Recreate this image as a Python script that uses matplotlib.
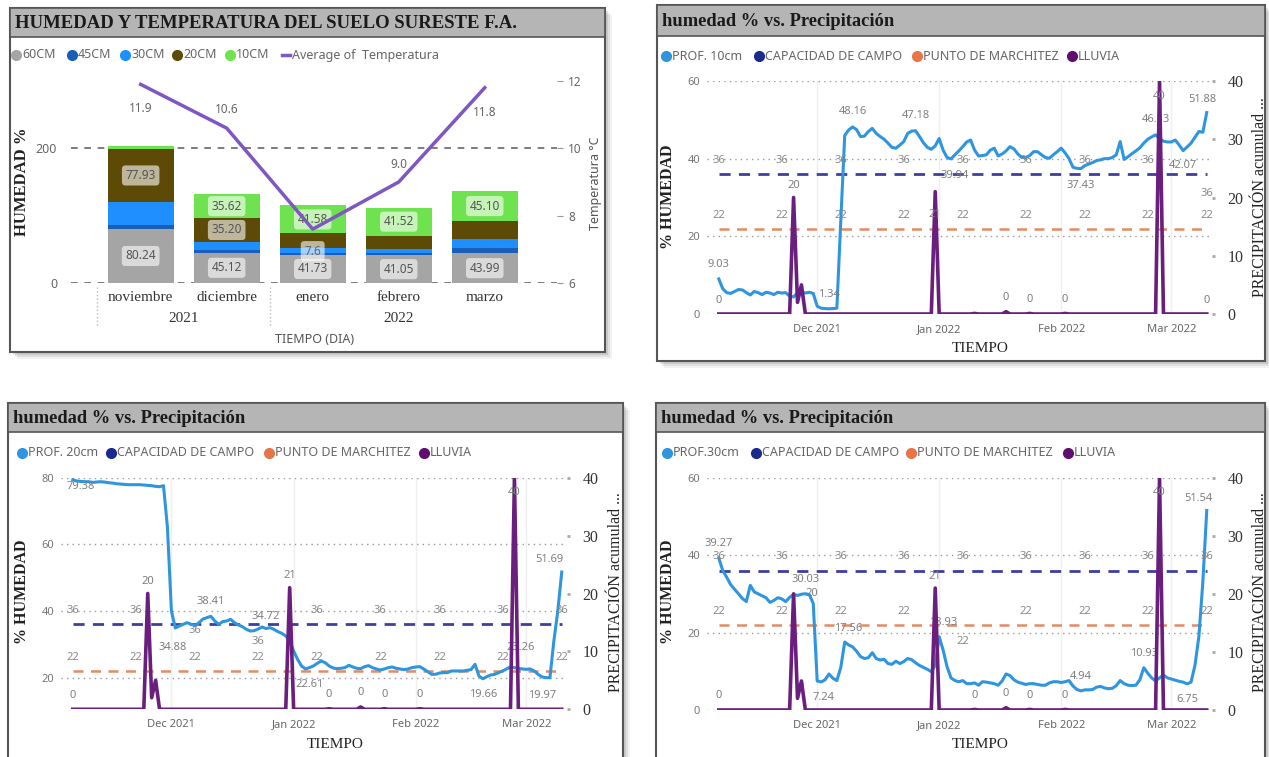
import numpy as np
import pandas as pd
import matplotlib
matplotlib.use('Agg')
import matplotlib.pyplot as plt
import matplotlib.dates as mdates
from matplotlib.patches import Rectangle
from matplotlib.lines import Line2D

plt.rcParams['font.family'] = ['Noto Sans', 'DejaVu Sans']

W, H = 1269, 757

# ---- panel 1: humedad por profundidad (mensual) + temperatura ----
meses = ['noviembre', 'diciembre', 'enero', 'febrero', 'marzo']
cm60 = [80.24, 45.12, 41.73, 41.05, 43.99]
cm45 = [6.5, 4.0, 3.5, 3.5, 8.0]
cm30 = [34.0, 12.0, 6.4, 6.0, 14.0]
cm20 = [77.93, 35.20, 22.0, 19.8, 25.7]
cm10 = [5.5, 35.62, 41.58, 41.52, 45.10]
temperatura = [11.9, 10.6, 7.6, 9.0, 11.8]

# ---- series diarias 06/11/2021 - 10/03/2022 ----
fechas = pd.date_range('2021-11-06', '2022-03-10', freq='D')
hum_10cm = [9.03, 6.5, 5.5, 5.3, 5.8, 6.3, 6.2, 5.5, 4.9, 5.8,
            5.5, 5.0, 5.6, 5.4, 5.0, 5.6, 5.4, 5.5, 4.6, 4.4,
            5.5, 5.6, 5.4, 5.6, 5.3, 2.0, 1.5, 1.4, 1.34, 1.4,
            1.5, 24.0, 46.0, 47.4, 48.16, 47.5, 45.7, 45.8, 47.0, 47.8,
            46.5, 45.7, 45.0, 44.0, 42.9, 42.7, 43.5, 44.4, 46.5, 47.1,
            47.18, 45.7, 44.1, 42.9, 42.4, 43.3, 45.2, 42.2, 40.3, 39.94,
            41.0, 42.0, 43.1, 44.3, 44.8, 42.2, 40.7, 40.8, 41.0, 42.2,
            42.7, 40.7, 41.2, 42.0, 43.1, 42.5, 41.2, 40.3, 40.3, 40.8,
            41.8, 41.8, 41.0, 40.3, 40.1, 41.0, 41.8, 42.7, 41.5, 40.0,
            37.8, 37.5, 37.43, 38.2, 38.6, 39.0, 39.5, 39.7, 40.0, 40.0,
            40.3, 41.0, 44.4, 39.8, 40.5, 41.3, 42.0, 42.8, 44.0, 45.0,
            45.6, 46.13, 45.2, 44.5, 44.3, 44.3, 44.8, 43.5, 42.07, 43.0,
            44.0, 45.5, 47.0, 46.8, 51.88]
hum_20cm = [79.38, 79.0, 78.9, 78.8, 78.8, 78.6, 78.7, 78.8, 78.7, 78.5,
            78.4, 78.2, 78.1, 78.0, 77.9, 77.9, 77.9, 77.9, 77.8, 77.7,
            77.6, 77.4, 77.3, 77.6, 65.0, 40.0, 34.88, 35.5, 36.0, 36.5,
            36.0, 35.6, 36.5, 37.6, 38.0, 38.41, 37.0, 36.0, 36.8, 37.0,
            37.5, 36.5, 35.8, 35.3, 34.5, 34.0, 34.1, 34.6, 35.2, 34.72,
            35.0, 34.5, 33.8, 33.3, 32.5, 31.0, 28.0, 25.5, 23.5, 22.61,
            23.0, 23.5, 24.3, 25.0, 24.5, 23.5, 22.9, 22.7, 22.8, 23.0,
            23.7, 23.2, 22.8, 22.7, 23.3, 23.6, 23.0, 22.6, 22.3, 22.6,
            23.0, 23.2, 22.8, 22.6, 22.4, 22.6, 23.0, 23.2, 23.3, 22.6,
            21.8, 21.0, 21.0, 21.4, 21.5, 21.5, 22.0, 22.0, 22.0, 22.0,
            22.2, 22.4, 24.0, 20.5, 19.66, 20.3, 20.8, 21.0, 21.5, 22.0,
            22.6, 23.26, 23.0, 22.8, 22.6, 22.5, 22.6, 22.0, 21.0, 20.2,
            20.0, 19.97, 31.0, 40.0, 51.69]
hum_30cm = [39.27, 36.0, 34.3, 32.4, 31.2, 30.0, 28.8, 28.0, 32.2, 30.5,
            30.0, 29.5, 29.0, 27.8, 28.3, 29.0, 28.7, 28.0, 29.1, 29.8,
            29.6, 29.9, 30.03, 29.8, 27.5, 7.5, 7.24, 7.8, 9.3, 8.2,
            7.6, 11.0, 17.56, 16.8, 16.3, 15.2, 13.8, 13.3, 13.5, 14.8,
            13.3, 12.9, 13.1, 12.0, 11.8, 12.6, 12.0, 12.5, 13.3, 13.0,
            12.2, 11.5, 11.0, 10.5, 9.9, 11.5, 18.93, 15.5, 11.2, 8.3,
            7.6, 7.3, 7.6, 6.8, 6.8, 7.0, 6.4, 7.3, 7.2, 7.0,
            6.8, 6.4, 7.5, 9.3, 8.9, 7.8, 7.2, 6.9, 6.6, 6.8,
            6.8, 6.6, 6.4, 6.4, 7.0, 7.3, 7.3, 7.1, 7.3, 7.6,
            6.2, 5.3, 4.94, 5.2, 5.2, 5.3, 5.9, 6.1, 5.7, 5.5,
            5.6, 6.3, 7.6, 6.8, 6.4, 6.3, 6.4, 7.8, 10.93, 9.5,
            8.3, 7.5, 8.3, 9.0, 8.3, 8.0, 7.7, 7.4, 7.2, 6.75,
            7.2, 11.5, 19.0, 33.0, 51.54]
lluvia = [0, 0, 0, 0, 0, 0, 0, 0, 0, 0,
          0, 0, 0, 0, 0, 0, 0, 0, 0, 20,
          2, 5, 0, 0, 0, 0, 0, 0, 0, 0,
          0, 0, 0, 0, 0, 0, 0, 0, 0, 0,
          0, 0, 0, 0, 0, 0, 0, 0, 0, 0,
          0, 0, 0, 0, 0, 21, 0, 0, 0, 0,
          0, 0, 0, 0, 0, 0.1, 0, 0, 0, 0,
          0, 0, 0, 0.4, 0, 0, 0, 0, 0, 0.1,
          0, 0, 0, 0, 0, 0, 0, 0, 0.1, 0,
          0, 0, 0, 0, 0, 0, 0, 0, 0, 0,
          0, 0, 0, 0, 0, 0, 0, 0, 0, 0,
          0, 0, 40, 0, 0, 0, 0, 0, 0, 0,
          0, 0, 0, 0, 0]
capacidad_campo = 36
punto_marchitez = 22


def fx(x):
    return x / W


def fy(y):
    return 1 - y / H


fig = plt.figure(figsize=(W / 100, H / 100), dpi=100)
fig.patch.set_facecolor('white')


def marco(x0, y0, x1, y1, barra, titulo, size):
    for k, a in [(7, 0.05), (5, 0.07), (3, 0.1)]:
        fig.add_artist(Rectangle((fx(x0 + k), fy(y1 + k)), (x1 - x0) / W, (y1 - y0) / H,
                                 transform=fig.transFigure, facecolor='black', alpha=a,
                                 edgecolor='none', zorder=-12))
    fig.add_artist(Rectangle((fx(x0), fy(y1)), (x1 - x0) / W, (y1 - y0) / H,
                             transform=fig.transFigure, facecolor='white',
                             edgecolor='#555555', lw=1.5, zorder=-11))
    fig.add_artist(Rectangle((fx(x0), fy(barra)), (x1 - x0) / W, (barra - y0) / H,
                             transform=fig.transFigure, facecolor='#B5B5B5',
                             edgecolor='#555555', lw=1.2, zorder=-10))
    fig.text(fx(x0 + 5), fy((y0 + barra) / 2 + 1), titulo, fontsize=size, fontweight='bold',
             family='Liberation Serif', color='#1a1a1a', va='center')


def leyenda(y, items, size=9):
    for x, texto, color, tipo in items:
        if tipo == 'o':
            fig.add_artist(Line2D([fx(x)], [fy(y)], marker='o', ms=7, color=color,
                                  transform=fig.transFigure))
        else:
            fig.add_artist(Line2D([fx(x - 4), fx(x + 4)], [fy(y), fy(y)], lw=2.5, color=color,
                                  transform=fig.transFigure))
        fig.text(fx(x + 6), fy(y), texto, fontsize=size, color='#666666', va='center')


# ================= panel 1 =================
marco(10, 8, 605, 352, 37, 'HUMEDAD Y TEMPERATURA DEL SUELO SURESTE F.A.', 13.5)
leyenda(55, [(16, '60CM', '#A5A5A5', 'o'), (72, '45CM', '#1A5EB8', 'o'),
             (125, '30CM', '#1F8FFF', 'o'), (177, '20CM', '#5C4A06', 'o'),
             (230, '10CM', '#6FE34F', 'o'), (286, 'Average of  Temperatura', '#7E57C2', '-')])

ax1 = fig.add_axes([fx(71), fy(283), (557 - 71) / W, (283 - 81) / H])
ax1.set_facecolor('none')
x = np.arange(len(meses))
base = np.zeros(len(meses))
capas = [(cm60, '#A5A5A5'), (cm45, '#1A5EB8'), (cm30, '#1F8FFF'), (cm20, '#5C4A06'), (cm10, '#6FE34F')]
centros = []
for vals, col in capas:
    ax1.bar(x, vals, 0.77, bottom=base, color=col, zorder=2)
    centros.append(base + np.array(vals) / 2)
    base = base + np.array(vals)

caja = dict(boxstyle='round,pad=0.3', fc='white', ec='none', alpha=0.6)
for i in range(5):
    ax1.text(x[i], centros[0][i], f'{cm60[i]:.2f}', ha='center', va='center', fontsize=8.5,
             color='#555555', bbox=caja, zorder=4)
for i in [0, 1]:
    ax1.text(x[i], centros[3][i], f'{cm20[i]:.2f}', ha='center', va='center', fontsize=8.5,
             color='#555555', bbox=caja, zorder=4)
for i in [1, 2, 3, 4]:
    ax1.text(x[i], centros[4][i], f'{cm10[i]:.2f}', ha='center', va='center', fontsize=8.5,
             color='#555555', bbox=caja, zorder=4)

ax1.set_xlim(-0.81, 4.84)
ax1.set_ylim(0, 300)
ax1.set_yticks([0, 200])
for yv in [0, 200]:
    ax1.axhline(yv, color='#666666', ls=(0, (4, 4)), lw=1.2, zorder=1)
ax1.tick_params(axis='y', length=0, labelsize=9, labelcolor='#666666', pad=10)
ax1.set_xticks(x)
ax1.set_xticklabels(meses, family='Liberation Serif', fontsize=11, color='#333333')
ax1.tick_params(axis='x', length=0, pad=6)
for s in ax1.spines.values():
    s.set_visible(False)
ax1.annotate('2021', xy=(0.5, -0.175), xycoords=('data', 'axes fraction'), ha='center', va='center',
             family='Liberation Serif', fontsize=11, color='#333333')
ax1.annotate('2022', xy=(3, -0.175), xycoords=('data', 'axes fraction'), ha='center', va='center',
             family='Liberation Serif', fontsize=11, color='#333333')
for xs in [-0.51, 1.5]:
    ax1.plot([xs, xs], [-0.02, -0.22], transform=ax1.get_xaxis_transform(), color='#BBBBBB',
             ls=':', lw=1, clip_on=False)

ax1b = ax1.twinx()
ax1b.set_ylim(6, 12)
ax1b.set_yticks([6, 8, 10, 12])
ax1b.tick_params(axis='y', length=4, color='#999999', labelsize=8.5, labelcolor='#666666', pad=4)
for s in ax1b.spines.values():
    s.set_visible(False)
ax1b.plot(x, temperatura, color='#7E57C2', lw=2.5, zorder=3)
desp_t = [-24, 19, -22, 18, -25]
for i, t in enumerate(temperatura):
    extra = dict(bbox=caja) if i == 2 else {}
    ax1b.annotate(f'{t:.1f}', (x[i], t), xytext=(0, desp_t[i]), textcoords='offset pixels',
                  ha='center', va='center', fontsize=8.5, color='#666666', **extra)

fig.text(fx(22), fy(182), 'HUMEDAD %', rotation=90, family='Liberation Serif', fontweight='bold',
         fontsize=12, color='#222222', ha='center', va='center')
fig.text(fx(596), fy(183), 'Temperatura °C', rotation=90, fontsize=9, color='#555555',
         ha='center', va='center')
fig.text(fx(315), fy(340), 'TIEMPO (DIA)', fontsize=9, color='#555555', ha='center', va='center')

# ================= panels 2-4 =================
x_ini = pd.Timestamp('2021-11-03')
x_fin = pd.Timestamp('2022-03-11 08:00')
dias_ref = [0, 16, 31, 47, 62, 78, 93, 109, 124]


def grafico(rect, serie, etiquetas, ylim, yticks, ceros, mueve36=None, mueve22=None,
            pos_lluvia=None):
    mueve36 = mueve36 or {}
    mueve22 = mueve22 or {}
    pos_lluvia = pos_lluvia or {19: (0, 12), 55: (0, 12), 112: (0, -15)}
    ax = fig.add_axes(rect)
    ax.set_facecolor('none')
    ax.set_xlim(x_ini, x_fin)
    ax.set_ylim(*ylim)
    ax.set_yticks(yticks)
    ax.grid(axis='y', ls=(0, (1, 3)), color='#999999', lw=1)
    ax.grid(axis='x', color='#EFEFEF', lw=1)
    ax.xaxis.set_major_locator(mdates.MonthLocator())
    ax.xaxis.set_major_formatter(mdates.DateFormatter('%b %Y'))
    ax.tick_params(axis='x', length=0, labelsize=8, labelcolor='#666666', pad=7)
    ax.tick_params(axis='y', length=0, labelsize=8, labelcolor='#777777', pad=5)
    for s in ax.spines.values():
        s.set_visible(False)
    ax.hlines(capacidad_campo, fechas[0], fechas[-1], colors='#3E3EA0', linestyles=(0, (4, 3)), lw=2)
    ax.hlines(punto_marchitez, fechas[0], fechas[-1], colors='#E48A64', linestyles=(0, (4, 3)), lw=1.8)
    ax.plot(fechas, serie, color='#2F95DF', lw=2.2)
    for d in dias_ref:
        ax.annotate(str(capacidad_campo), (fechas[d], capacidad_campo), xytext=(0, mueve36.get(d, 14)),
                    textcoords='offset pixels', ha='center', va='center', fontsize=8, color='#8A8A8A')
        ax.annotate(str(punto_marchitez), (fechas[d], punto_marchitez), xytext=(0, mueve22.get(d, 13)),
                    textcoords='offset pixels', ha='center', va='center', fontsize=8, color='#8A8A8A')
    for d, dx, dy in etiquetas:
        ax.annotate(f'{serie[d]:.2f}', (fechas[d], serie[d]), xytext=(dx, dy),
                    textcoords='offset pixels', ha='center', va='center', fontsize=8, color='#7F7F7F')

    ax2 = ax.twinx()
    ax2.set_ylim(0, 40)
    ax2.set_yticks([0, 10, 20, 30, 40])
    ax2.set_yticklabels(['0', '10', '20', '30', '40'], family='Liberation Serif')
    ax2.tick_params(axis='y', length=2, width=2, color='#AAAAAA', labelsize=11.5,
                    labelcolor='#333333', pad=9)
    for s in ax2.spines.values():
        s.set_visible(False)
    ax2.plot(fechas, lluvia, color='#6A1E7E', lw=2.6)
    for d, (dx, dy) in pos_lluvia.items():
        ax2.annotate(f'{lluvia[d]:.0f}', (fechas[d], lluvia[d]), xytext=(dx, dy),
                     textcoords='offset pixels', ha='center', va='center', fontsize=8, color='#7F7F7F')
    for d in ceros:
        ax2.annotate('0', (fechas[d], lluvia[d]), xytext=(0, 14),
                     textcoords='offset pixels', ha='center', va='center', fontsize=8, color='#7F7F7F')
    return ax, ax2


def textos_ejes(xl, xr, yc, yt):
    fig.text(fx(xl), fy(yc), '% HUMEDAD', rotation=90, family='Liberation Serif', fontweight='bold',
             fontsize=11.5, color='#222222', ha='center', va='center')
    fig.text(fx(xr), fy(yc), 'PRECIPITACIÓN acumulad ...', rotation=90, family='Liberation Serif',
             fontsize=11.5, color='#222222', ha='center', va='center')
    fig.text(fx((xl + xr) / 2 + 16), fy(yt), 'TIEMPO', family='Liberation Serif', fontsize=11,
             color='#222222', ha='center', va='center')


def leyenda_linea(y, xs, prof):
    leyenda(y, [(xs[0], prof, '#2F95DF', 'o'), (xs[1], 'CAPACIDAD DE CAMPO', '#1B2A8C', 'o'),
                (xs[2], 'PUNTO DE MARCHITEZ', '#E8744A', 'o'), (xs[3], 'LLUVIA', '#5E0F70', 'o')])


# panel 2: 10 cm
marco(657, 5, 1265, 361, 36, 'humedad % vs. Precipitación', 13.3)
leyenda_linea(56, [666, 759, 917, 1072], 'PROF. 10cm')
grafico([fx(707), fy(314), (1212 - 707) / W, (314 - 81) / H], hum_10cm,
        [(0, 0, 14), (28, 0, 14), (34, 0, 15), (50, 0, 15), (59, 4, -17), (92, 0, -17),
         (111, 0, 15), (118, 0, -15), (124, -4, 13)],
        (0, 60), [0, 20, 40, 60], [0, 73, 79, 88, 124], mueve36={124: -19},
        pos_lluvia={19: (0, 12), 55: (0, -23), 112: (0, -15)})
textos_ejes(668, 1260, 197, 348)

# panel 3: 20 cm
marco(8, 403, 623, 762, 432, 'humedad % vs. Precipitación', 13.3)
leyenda_linea(453, [22, 111, 269, 424], 'PROF. 20cm')
grafico([fx(61), fy(709.3), (567 - 61) / W, (709.3 - 477.7) / H], hum_20cm,
        [(0, 8, -7), (26, -3, -19), (35, 0, 15), (49, 0, 12), (59, 4, -16), (104, 0, -16),
         (111, 10, 19), (121, -8, -18), (124, -12, 13)],
        (10.5, 80), [20, 40, 60, 80], [0, 65, 73, 79, 88], mueve36={31: -6, 47: -17})
textos_ejes(22, 616, 592, 745)

# panel 4: 30 cm
marco(656, 403, 1265, 762, 432, 'humedad % vs. Precipitación', 13.3)
leyenda_linea(453, [667, 756, 911, 1068], 'PROF.30cm')
grafico([fx(707), fy(710), (1212 - 707) / W, (710 - 477.7) / H], hum_30cm,
        [(0, 0, 14), (22, 0, 14), (26, 2, -16), (32, 3, 14), (56, 4, 14), (92, 0, 14),
         (108, 0, 14), (119, 0, -16), (124, -8, 12)],
        (0, 60), [0, 20, 40, 60], [0, 65, 73, 79, 88], mueve22={62: -17},
        pos_lluvia={19: (18, 0), 55: (0, 12), 112: (0, -15)})
textos_ejes(668, 1260, 592, 745)

fig.savefig('out.png', dpi=100)
